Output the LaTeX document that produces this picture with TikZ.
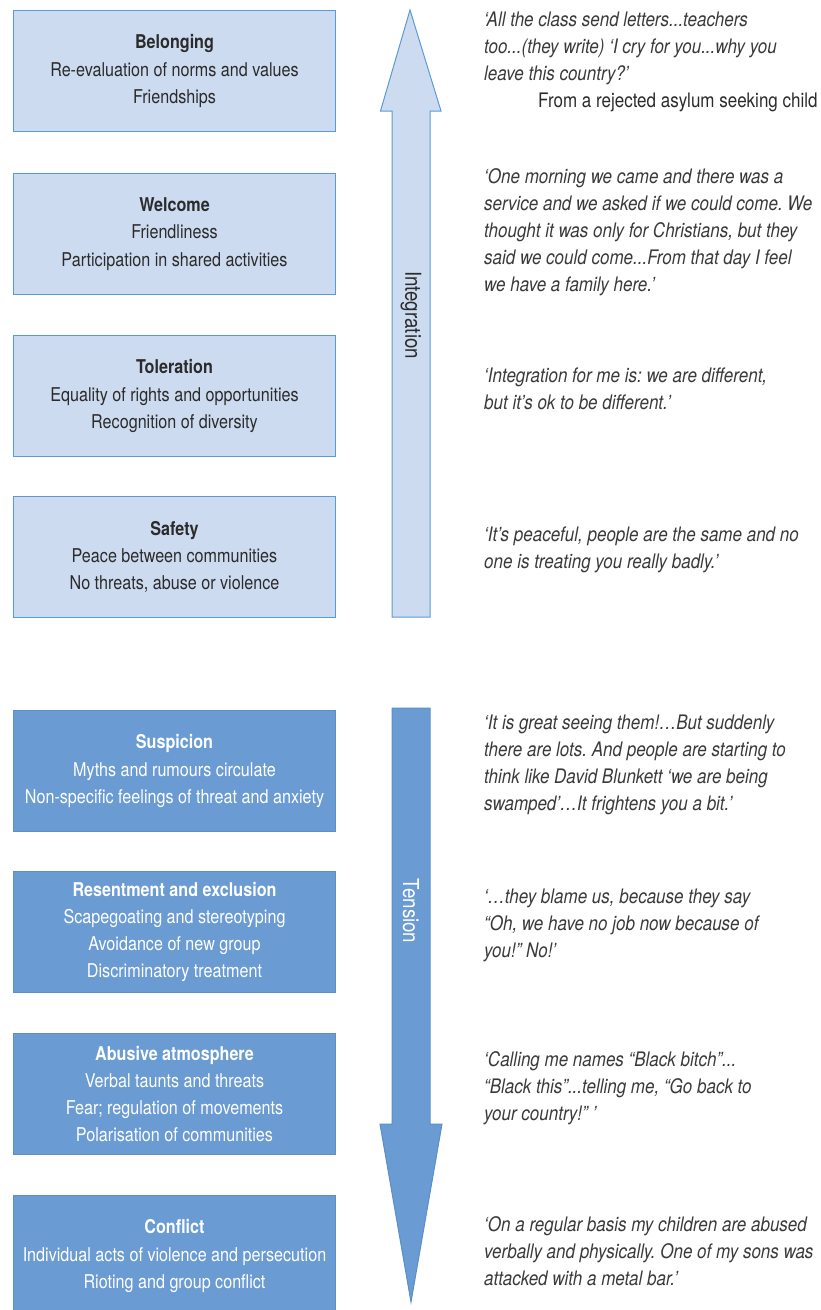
\documentclass[tikz,border=0pt]{standalone}
\usepackage{fontspec}
\setmainfont[FakeStretch=0.85]{TeX Gyre Heros}
\definecolor{lightfill}{HTML}{CDDBF0}
\definecolor{lineblue}{HTML}{5B9BD5}
\definecolor{darkfill}{HTML}{6A9BD2}
\definecolor{darkline}{HTML}{5A8FCB}
\definecolor{txt}{HTML}{2B2B2B}
\definecolor{qtxt}{HTML}{3A3A3A}
\frenchspacing
\begin{document}
\frenchspacing
\begin{tikzpicture}[x=1pt,y=-1pt,
  box/.style={draw=lineblue, fill=lightfill, line width=1pt, minimum width=322pt, minimum height=121pt,
    align=center, text=txt, font=\fontsize{19}{27.3}\selectfont, inner sep=0pt, anchor=north west},
  darkbox/.style={box, draw=darkline, fill=darkfill, text=white},
  quote/.style={anchor=west, align=left, text=qtxt, font=\fontsize{20}{27}\selectfont\itshape\frenchspacing, inner sep=0pt},
  uparrow/.style={draw=lineblue, fill=lightfill, line width=1pt},
  downarrow/.style={draw=darkline, fill=darkfill, line width=1pt},
  arrowlabel/.style={rotate=-90, font=\fontsize{22}{26}\selectfont, inner sep=0pt}]
\useasboundingbox (0,0) rectangle (821,1310);
% upper boxes
\node[box] (belong) at (13,10) {\textbf{Belonging}\\Re-evaluation of norms and values\\Friendships};
\node[box] (welcome) at (13,173) {\textbf{Welcome}\\Friendliness\\Participation in shared activities};
\node[box] (toler) at (13,335) {\textbf{Toleration}\\Equality of rights and opportunities\\Recognition of diversity};
\node[box] (safety) at (13,496) {\textbf{Safety}\\Peace between communities\\No threats, abuse or violence};
% lower boxes
\node[darkbox] (susp) at (13,710) {\textbf{Suspicion}\\Myths and rumours circulate\\Non-specific feelings of threat and anxiety};
\node[darkbox] (resent) at (13,871) {\textbf{Resentment and exclusion}\\Scapegoating and stereotyping\\Avoidance of new group\\Discriminatory treatment};
\node[darkbox] (abuse) at (13,1033) {\textbf{Abusive atmosphere}\\Verbal taunts and threats\\Fear; regulation of movements\\Polarisation of communities};
\node[darkbox] (conflict) at (13,1195) {\textbf{Conflict}\\Individual acts of violence and persecution\\Rioting and group conflict};
% arrows
\draw[uparrow] (410,10) -- (441,111) -- (430,111) -- (430,617) -- (392,617) -- (392,111) -- (380.5,111) -- cycle;
\node[arrowlabel, text=txt] (integ) at (411,315) {Integration};
\draw[downarrow] (392,708) -- (430,708) -- (430,1124) -- (442,1124) -- (411,1302) -- (380,1124) -- (392,1124) -- cycle;
\node[arrowlabel, text=white] (tension) at (411,911) {Tension};
% quotes
\node[quote] (q1) at (484,62) {‘All the class send letters...teachers\\too...(they write) ‘I cry for you...why you\\leave this country?’\\\hspace*{54pt}{\upshape\color{txt}From a rejected asylum seeking child}};
\node[quote] (q2) at (484,232) {‘One morning we came and there was a\\service and we asked if we could come. We\\thought it was only for Christians, but they\\said we could come...From that day I feel\\we have a family here.’};
\node[quote] (q3) at (484,389) {‘Integration for me is: we are different,\\but it’s ok to be different.’};
\node[quote] (q4) at (484,550) {‘It’s peaceful, people are the same and no\\one is treating you really badly.’};
\node[quote] (q5) at (484,765) {‘It is great seeing them!\ldots But suddenly\\there are lots. And people are starting to\\think like David Blunkett ‘we are being\\swamped’\ldots It frightens you a bit.’};
\node[quote] (q6) at (484,925) {‘\ldots they blame us, because they say\\“Oh, we have no job now because of\\you!” No!’};
\node[quote] (q7) at (484,1088) {‘Calling me names “Black bitch”...\\“Black this”...telling me, “Go back to\\your country!” ’};
\node[quote] (q8) at (484,1251) {‘On a regular basis my children are abused\\verbally and physically. One of my sons was\\attacked with a metal bar.’};
\end{tikzpicture}
\end{document}
